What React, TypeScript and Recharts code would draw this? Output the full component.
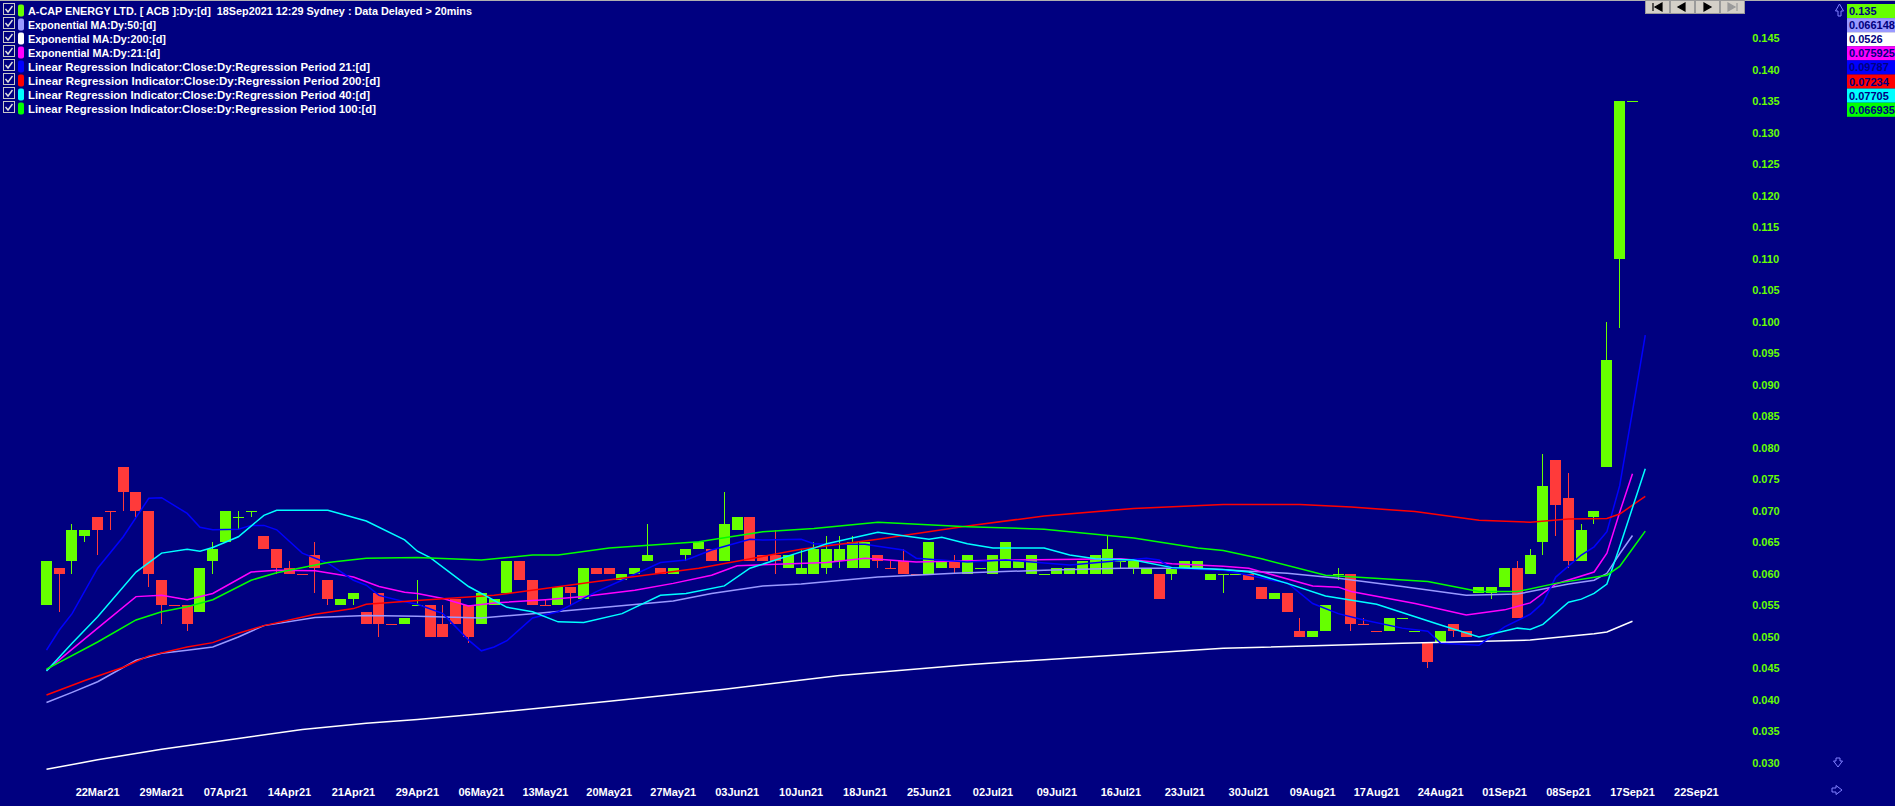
import { Bar, ComposedChart, Line, XAxis, YAxis } from 'recharts'

// date labels sit under every 5th bar, starting at the 5th one
const dateTicks = [
  '22Mar21', '29Mar21', '07Apr21', '14Apr21', '21Apr21', '29Apr21', '06May21', '13May21', '20May21',
  '27May21', '03Jun21', '10Jun21', '18Jun21', '25Jun21', '02Jul21', '09Jul21', '16Jul21', '23Jul21',
  '30Jul21', '09Aug21', '17Aug21', '24Aug21', '01Sep21', '08Sep21', '17Sep21', '22Sep21',
]
const firstTickBar = 4
const tickStep = 5
const slotCount = 133

const priceTicks = [
  0.03, 0.035, 0.04, 0.045, 0.05, 0.055, 0.06, 0.065, 0.07, 0.075, 0.08, 0.085, 0.09, 0.095, 0.1, 0.105,
  0.11, 0.115, 0.12, 0.125, 0.13, 0.135, 0.14, 0.145,
]

const opens = [
  0.055, 0.061, 0.062, 0.066, 0.069, 0.07, 0.077, 0.073, 0.07, 0.059,
  0.055, 0.055, 0.054, 0.062, 0.065, 0.069, 0.07, 0.066, 0.064, 0.061,
  0.06, 0.063, 0.059, 0.055, 0.056, 0.054, 0.057, 0.052, 0.052, 0.055,
  0.055, 0.052, 0.056, 0.055, 0.052, 0.055, 0.057, 0.062, 0.059, 0.055,
  0.055, 0.058, 0.056, 0.061, 0.061, 0.059, 0.06, 0.062, 0.061, 0.06,
  0.063, 0.064, 0.064, 0.062, 0.067, 0.069, 0.063, 0.063, 0.061, 0.06,
  0.06, 0.061, 0.062, 0.061, 0.061, 0.063, 0.061, 0.062, 0.06, 0.06,
  0.061, 0.062, 0.06, 0.061, 0.06, 0.061, 0.061, 0.06, 0.06, 0.06,
  0.06, 0.06, 0.06, 0.06, 0.062, 0.061, 0.06, 0.06, 0.06, 0.061,
  0.061, 0.059, 0.06, 0.06, 0.06, 0.058, 0.056, 0.057, 0.051, 0.05,
  0.051, 0.06, 0.06, 0.052, 0.051, 0.051, 0.053, 0.051, 0.049, 0.049,
  0.052, 0.051, 0.057, 0.057, 0.058, 0.061, 0.06, 0.065, 0.078, 0.072,
  0.062, 0.069, 0.077, 0.11, 0.135,
]
const highs = [
  0.062, 0.061, 0.068, 0.067, 0.069, 0.07, 0.077, 0.073, 0.07, 0.059,
  0.055, 0.055, 0.061, 0.065, 0.07, 0.07, 0.07, 0.066, 0.064, 0.062,
  0.06, 0.065, 0.059, 0.056, 0.057, 0.054, 0.057, 0.052, 0.053, 0.059,
  0.055, 0.055, 0.056, 0.055, 0.057, 0.056, 0.062, 0.062, 0.059, 0.056,
  0.058, 0.058, 0.061, 0.061, 0.061, 0.06, 0.061, 0.068, 0.061, 0.061,
  0.064, 0.065, 0.064, 0.073, 0.069, 0.069, 0.063, 0.067, 0.063, 0.064,
  0.065, 0.066, 0.066, 0.066, 0.065, 0.063, 0.062, 0.064, 0.06, 0.065,
  0.062, 0.063, 0.063, 0.061, 0.063, 0.065, 0.062, 0.063, 0.06, 0.061,
  0.061, 0.062, 0.063, 0.066, 0.062, 0.062, 0.061, 0.06, 0.061, 0.062,
  0.062, 0.06, 0.06, 0.06, 0.06, 0.058, 0.057, 0.057, 0.053, 0.051,
  0.055, 0.061, 0.06, 0.053, 0.051, 0.053, 0.053, 0.051, 0.049, 0.051,
  0.052, 0.051, 0.058, 0.058, 0.061, 0.062, 0.064, 0.079, 0.078, 0.076,
  0.068, 0.07, 0.1, 0.135, 0.135,
]
const lows = [
  0.055, 0.054, 0.06, 0.065, 0.063, 0.067, 0.07, 0.069, 0.058, 0.052,
  0.055, 0.051, 0.054, 0.06, 0.065, 0.067, 0.069, 0.064, 0.06, 0.06,
  0.06, 0.057, 0.055, 0.055, 0.055, 0.052, 0.05, 0.052, 0.052, 0.055,
  0.05, 0.05, 0.052, 0.049, 0.052, 0.055, 0.057, 0.059, 0.055, 0.055,
  0.055, 0.055, 0.056, 0.06, 0.06, 0.059, 0.06, 0.062, 0.06, 0.06,
  0.062, 0.064, 0.062, 0.062, 0.067, 0.062, 0.062, 0.06, 0.061, 0.06,
  0.06, 0.06, 0.061, 0.061, 0.061, 0.061, 0.061, 0.06, 0.06, 0.06,
  0.061, 0.06, 0.06, 0.061, 0.06, 0.061, 0.061, 0.06, 0.06, 0.06,
  0.06, 0.06, 0.06, 0.06, 0.061, 0.06, 0.06, 0.056, 0.059, 0.061,
  0.061, 0.059, 0.057, 0.06, 0.059, 0.056, 0.056, 0.054, 0.05, 0.05,
  0.051, 0.059, 0.051, 0.052, 0.051, 0.051, 0.053, 0.051, 0.045, 0.049,
  0.05, 0.05, 0.057, 0.056, 0.058, 0.053, 0.06, 0.063, 0.066, 0.061,
  0.062, 0.068, 0.077, 0.099, 0.135,
]
const closes = [
  0.062, 0.06, 0.067, 0.067, 0.067, 0.07, 0.073, 0.07, 0.06, 0.055,
  0.055, 0.052, 0.061, 0.064, 0.07, 0.069, 0.07, 0.064, 0.061, 0.06,
  0.06, 0.061, 0.056, 0.056, 0.057, 0.052, 0.052, 0.052, 0.053, 0.055,
  0.05, 0.05, 0.052, 0.05, 0.057, 0.056, 0.062, 0.059, 0.055, 0.055,
  0.058, 0.057, 0.061, 0.06, 0.06, 0.06, 0.061, 0.063, 0.06, 0.061,
  0.064, 0.065, 0.062, 0.068, 0.069, 0.062, 0.062, 0.062, 0.063, 0.061,
  0.064, 0.064, 0.064, 0.065, 0.065, 0.062, 0.061, 0.06, 0.06, 0.065,
  0.062, 0.061, 0.063, 0.061, 0.063, 0.065, 0.062, 0.063, 0.06, 0.061,
  0.061, 0.062, 0.063, 0.064, 0.062, 0.062, 0.061, 0.056, 0.061, 0.062,
  0.062, 0.06, 0.06, 0.06, 0.059, 0.056, 0.057, 0.054, 0.05, 0.051,
  0.055, 0.06, 0.052, 0.052, 0.051, 0.053, 0.053, 0.051, 0.046, 0.051,
  0.051, 0.05, 0.058, 0.058, 0.061, 0.053, 0.063, 0.074, 0.071, 0.062,
  0.067, 0.07, 0.094, 0.135, 0.135,
]
// bars where open == close but drawn red
const bearishDojis = [5, 10, 20, 27, 39, 66, 68, 103, 104]

// indicator readings as [bar, value]
const ema50Pts = [
  [0, 0.0396], [2, 0.0412], [4, 0.0429], [7, 0.0463], [9, 0.0474], [11, 0.0479], [13, 0.0484], [15, 0.05],
  [17, 0.0518], [21, 0.0531], [25, 0.0534], [29, 0.0533], [34, 0.053], [38, 0.0537], [43, 0.0546],
  [49, 0.0557], [52, 0.0569], [56, 0.0581], [59, 0.0584], [65, 0.0595], [71, 0.0601], [78, 0.0606],
  [84, 0.0609], [90, 0.0609], [97, 0.0601], [101, 0.0593], [106, 0.058], [111, 0.0566], [115, 0.0568],
  [119, 0.0584], [121, 0.059], [122, 0.0601], [123, 0.0632], [124, 0.0661],
]
const ema200Pts = [
  [0, 0.029], [4, 0.0305], [9, 0.0322], [15, 0.0339], [20, 0.0353], [25, 0.0363], [29, 0.0369], [34, 0.0378],
  [44, 0.0398], [53, 0.0417], [62, 0.0439], [72, 0.0456], [78, 0.0464], [92, 0.0482], [106, 0.049],
  [116, 0.0495], [121, 0.0505], [122, 0.0508], [124, 0.0525],
]
const ema21Pts = [
  [0, 0.0447], [4, 0.0514], [7, 0.0564], [9, 0.0566], [11, 0.0559], [13, 0.0569], [16, 0.0603], [18, 0.0606],
  [21, 0.0605], [24, 0.0595], [26, 0.058], [28, 0.0571], [29, 0.0569], [31, 0.0561], [33, 0.0549],
  [35, 0.0554], [39, 0.0559], [42, 0.0564], [46, 0.0574], [49, 0.0585], [52, 0.0598], [54, 0.0613],
  [61, 0.0618], [64, 0.0625], [68, 0.0619], [75, 0.0622], [84, 0.0624], [88, 0.0616], [92, 0.0612],
  [94, 0.0609], [99, 0.0581], [101, 0.0579], [102, 0.0572], [107, 0.0553], [111, 0.0535], [114, 0.0543],
  [116, 0.0554], [118, 0.0584], [121, 0.0603], [122, 0.0633], [123, 0.0698], [124, 0.0759],
]
const linReg21Pts = [
  [0, 0.0479], [1, 0.0511], [2, 0.0537], [4, 0.0609], [6, 0.0659], [8, 0.072], [9, 0.0721], [11, 0.0696],
  [12, 0.0674], [13, 0.067], [15, 0.0671], [16, 0.0677], [17, 0.0677], [18, 0.067], [20, 0.0633],
  [22, 0.0617], [24, 0.059], [25, 0.0582], [26, 0.0566], [28, 0.0556], [29, 0.0552], [31, 0.0537],
  [33, 0.0495], [34, 0.0478], [35, 0.0484], [36, 0.0494], [38, 0.053], [40, 0.054], [43, 0.0572],
  [45, 0.059], [48, 0.0618], [50, 0.0622], [52, 0.0638], [55, 0.0655], [56, 0.0654], [59, 0.0655],
  [60, 0.0648], [61, 0.0647], [64, 0.0647], [65, 0.0644], [67, 0.0638], [68, 0.0625], [72, 0.0619],
  [75, 0.0622], [80, 0.0614], [86, 0.0625], [87, 0.0622], [88, 0.0609], [92, 0.0606], [94, 0.0598],
  [96, 0.0589], [97, 0.0586], [99, 0.0553], [101, 0.0537], [103, 0.0527], [106, 0.0514], [108, 0.0509],
  [109, 0.049], [112, 0.0487], [114, 0.0516], [116, 0.0536], [117, 0.0554], [118, 0.0595], [120, 0.063],
  [121, 0.0643], [122, 0.0667], [123, 0.074], [124, 0.0858], [125, 0.0979],
]
const linReg200Pts = [
  [0, 0.0408], [3, 0.0431], [6, 0.0452], [8, 0.047], [11, 0.0484], [13, 0.0491], [15, 0.0506], [17, 0.0518],
  [21, 0.0536], [24, 0.0545], [25, 0.0552], [29, 0.0558], [35, 0.0566], [43, 0.0588], [51, 0.0609],
  [59, 0.0639], [65, 0.0655], [72, 0.0676], [78, 0.0692], [85, 0.0704], [92, 0.071], [98, 0.071],
  [102, 0.0706], [107, 0.0699], [112, 0.0685], [116, 0.0682], [119, 0.0687], [122, 0.0688], [123, 0.0695],
  [124, 0.0709], [125, 0.0723],
]
const linReg40Pts = [
  [0, 0.0446], [2, 0.049], [4, 0.0532], [7, 0.0603], [9, 0.0633], [11, 0.0639], [12, 0.0636], [13, 0.0642],
  [15, 0.0659], [17, 0.0693], [18, 0.0701], [22, 0.0701], [25, 0.0684], [28, 0.0654], [29, 0.0636],
  [30, 0.0626], [33, 0.058], [36, 0.0547], [38, 0.054], [40, 0.0524], [42, 0.0523], [45, 0.0537],
  [48, 0.0566], [50, 0.0569], [53, 0.0581], [55, 0.0609], [57, 0.0622], [59, 0.0635], [60, 0.0641],
  [61, 0.0648], [65, 0.0666], [69, 0.0655], [70, 0.0658], [72, 0.0648], [74, 0.0641], [78, 0.0641],
  [80, 0.063], [82, 0.0624], [85, 0.0622], [88, 0.061], [92, 0.0607], [94, 0.0603], [97, 0.0585],
  [100, 0.0565], [104, 0.0552], [109, 0.0519], [112, 0.05], [115, 0.0514], [116, 0.0512], [117, 0.052],
  [119, 0.0555], [120, 0.056], [121, 0.0569], [122, 0.0584], [123, 0.0643], [124, 0.0705], [125, 0.0767],
]
const linReg100Pts = [
  [0, 0.0449], [4, 0.0492], [7, 0.0527], [9, 0.054], [11, 0.0548], [13, 0.0559], [16, 0.059], [18, 0.0602],
  [22, 0.0618], [25, 0.0625], [29, 0.0626], [34, 0.0622], [38, 0.063], [40, 0.063], [44, 0.0641],
  [51, 0.0651], [56, 0.0667], [60, 0.0672], [65, 0.0682], [72, 0.0675], [78, 0.0671], [85, 0.0657],
  [90, 0.0641], [92, 0.0637], [95, 0.0624], [100, 0.0598], [108, 0.0588], [112, 0.0572], [115, 0.0572],
  [118, 0.0585], [122, 0.0598], [123, 0.0612], [124, 0.064], [125, 0.0668],
]

const legendLabels = [
  'A-CAP ENERGY LTD. [ ACB ]:Dy:[d]  18Sep2021 12:29 Sydney : Data Delayed > 20mins',
  'Exponential MA:Dy:50:[d]',
  'Exponential MA:Dy:200:[d]',
  'Exponential MA:Dy:21:[d]',
  'Linear Regression Indicator:Close:Dy:Regression Period 21:[d]',
  'Linear Regression Indicator:Close:Dy:Regression Period 200:[d]',
  'Linear Regression Indicator:Close:Dy:Regression Period 40:[d]',
  'Linear Regression Indicator:Close:Dy:Regression Period 100:[d]',
]
const legendWidths = [444, 128, 138, 132, 342, 352, 342, 348]
const lastValues = ['0.135', '0.066148', '0.0526', '0.075925', '0.09787', '0.07234', '0.07705', '0.066935']

const UP = '#66ff00'
const DOWN = '#ff3a3a'
const BG = '#000080'
const FONT = '"Liberation Sans", Arial, sans-serif'

const series = [
  { key: 'ema50', points: ema50Pts, color: '#9999ff' },
  { key: 'ema200', points: ema200Pts, color: '#ffffff' },
  { key: 'ema21', points: ema21Pts, color: '#ff00ff' },
  { key: 'lr21', points: linReg21Pts, color: '#0000ff' },
  { key: 'lr200', points: linReg200Pts, color: '#ff0000' },
  { key: 'lr40', points: linReg40Pts, color: '#00ffff' },
  { key: 'lr100', points: linReg100Pts, color: '#00ff00' },
]
const swatchColors = [UP, ...series.map((s) => s.color)]

const rows = Array.from({ length: slotCount }, (_, i) => {
  const row: Record<string, unknown> = { i }
  if (i < opens.length) {
    row.open = opens[i]
    row.high = highs[i]
    row.low = lows[i]
    row.close = closes[i]
    row.range = [lows[i], highs[i]]
    row.bearish = bearishDojis.includes(i)
  }
  for (const s of series) {
    const hit = s.points.find((p) => p[0] === i)
    row[s.key] = hit ? hit[1] : null
  }
  return row
})

const tickBars = dateTicks.map((_, k) => firstTickBar + k * tickStep)

function Candle(props: any) {
  const { x, y, width, height, payload } = props
  if (!payload || payload.open == null) return null
  const { open, close, high, low, bearish } = payload
  const span = high - low
  const at = (v: number) => Math.round(span === 0 ? y : y + ((high - v) / span) * height)
  const left = Math.floor(x + width / 2) - 5
  const up = close > open || (close === open && !bearish)
  const color = up ? UP : DOWN
  const top = at(Math.max(open, close))
  const bottom = at(Math.min(open, close))
  const hy = at(high)
  const ly = at(low)
  return (
    <g shapeRendering="crispEdges">
      {ly > hy && <line x1={left + 5.5} x2={left + 5.5} y1={hy} y2={ly} stroke={color} strokeWidth={1} />}
      <rect x={left} y={top} width={11} height={Math.max(bottom - top, 1)} fill={color} />
    </g>
  )
}

function DateTick(props: any) {
  const { x, y, payload } = props
  const label = dateTicks[(payload.value - firstTickBar) / tickStep]
  return (
    <text x={x} y={y + 9} textAnchor="middle" fill="#ffffff" fontFamily={FONT} fontWeight="bold" fontSize={11}>
      {label}
    </text>
  )
}

function PriceTick(props: any) {
  const { x, y, payload } = props
  return (
    <text x={x} y={y + 4} textAnchor="start" fill={UP} fontFamily={FONT} fontWeight="bold" fontSize={11}>
      {payload.value.toFixed(3)}
    </text>
  )
}

function Legend() {
  return (
    <svg width={520} height={124} style={{ position: 'absolute', left: 0, top: 0 }}>
      {legendLabels.map((label, k) => {
        const y0 = 3 + k * 14
        return (
          <g key={label}>
            <rect x={3.5} y={y0 + 0.5} width={11} height={11} fill="none" stroke="#c8c8c8" />
            <path d={`M5.5 ${y0 + 6} l2.5 3 l4.5 -6`} fill="none" stroke="#e0e0e0" strokeWidth={1.4} />
            <rect x={18} y={y0 + 1.5} width={6} height={12} rx={2} fill={swatchColors[k]} />
            <text
              x={28}
              y={y0 + 12}
              fill="#ffffff"
              fontFamily={FONT}
              fontWeight="bold"
              fontSize={11}
              textLength={legendWidths[k]}
              lengthAdjust="spacingAndGlyphs"
              style={{ whiteSpace: 'pre' }}
            >
              {label}
            </text>
          </g>
        )
      })}
    </svg>
  )
}

function ValueBoxes() {
  return (
    <svg width={60} height={122} style={{ position: 'absolute', left: 1835, top: 0 }}>
      <path d="M3 16 l0 -5 l-2.5 0 l4 -7 l4 7 l-2.5 0 l0 5 z" fill="none" stroke="#8080ff" />
      {lastValues.map((v, k) => (
        <g key={k}>
          <rect x={12} y={4 + k * 14.1} width={48} height={14.1} fill={swatchColors[k]} />
          <text x={14} y={15 + k * 14.1} fill={BG} fontFamily={FONT} fontWeight="bold" fontSize={11}>
            {v}
          </text>
        </g>
      ))}
    </svg>
  )
}

function NavButtons() {
  const glyphs = [
    'M8 3 v8 M17 3 l-7 4 l7 4 z',
    'M15 3 l-7 4 l7 4 z',
    'M9 3 l7 4 l-7 4 z',
    'M8 3 l7 4 l-7 4 z M17 3 v8',
  ]
  return (
    <svg width={100} height={15} style={{ position: 'absolute', left: 1645, top: 0 }}>
      {glyphs.map((d, k) => (
        <g key={k} transform={`translate(${k * 25},0)`}>
          <rect x={0.5} y={0.5} width={24} height={13} fill="#d4d0c8" stroke="#9a9a9a" />
          <path d={d} fill={k === 3 ? '#9a9a9a' : '#000000'} stroke={k === 3 ? '#9a9a9a' : '#000000'} strokeWidth={1.2} />
        </g>
      ))}
    </svg>
  )
}

function ScrollArrows() {
  return (
    <svg width={20} height={50} style={{ position: 'absolute', left: 1828, top: 755 }}>
      <path d="M8 3 l0 3 l-2.5 0 l4.5 6 l4.5 -6 l-2.5 0 l0 -3 z" fill="none" stroke="#8080ff" />
      <path d="M4 33 l4 0 l0 -2.5 l6 4.5 l-6 4.5 l0 -2.5 l-4 0 z" fill="none" stroke="#8080ff" />
    </svg>
  )
}

export default function App() {
  return (
    <div style={{ position: 'fixed', left: 0, top: 0, width: 1895, height: 806, background: BG, overflow: 'hidden' }}>
      <div style={{ position: 'absolute', left: 0, top: 0, width: 1895, height: 1, background: '#b0b0b0' }} />
      <ComposedChart width={1895} height={806} data={rows} margin={{ top: 13, right: 93.8, bottom: 0, left: 40.1 }}>
        <XAxis
          dataKey="i"
          ticks={tickBars}
          interval={0}
          height={27.24}
          axisLine={false}
          tickLine={false}
          tick={<DateTick />}
        />
        <YAxis
          orientation="right"
          type="number"
          domain={[0.0275, 0.149]}
          allowDataOverflow
          ticks={priceTicks}
          interval={0}
          width={60}
          axisLine={false}
          tickLine={false}
          tickSize={0}
          tickMargin={11}
          tick={<PriceTick />}
        />
        <Bar dataKey="range" shape={<Candle />} isAnimationActive={false} />
        {series.map((s) => (
          <Line
            key={s.key}
            dataKey={s.key}
            stroke={s.color}
            strokeWidth={1.5}
            dot={false}
            activeDot={false}
            connectNulls
            isAnimationActive={false}
          />
        ))}
      </ComposedChart>
      <Legend />
      <NavButtons />
      <ValueBoxes />
      <ScrollArrows />
    </div>
  )
}
